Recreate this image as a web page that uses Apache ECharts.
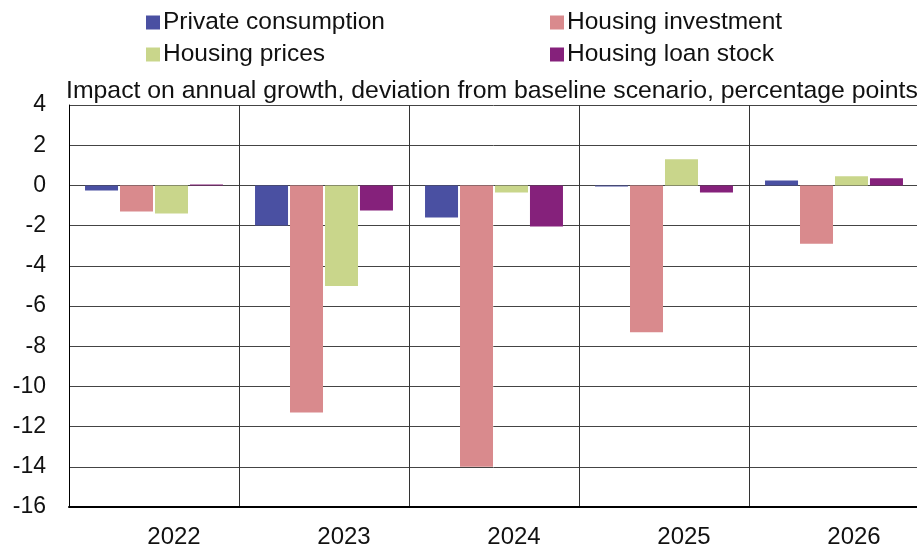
<!DOCTYPE html>
<html><head><meta charset="utf-8">
<script src="https://cdn.jsdelivr.net/npm/echarts@6/dist/echarts.min.js"></script>
<style>html,body{margin:0;padding:0;background:#fff}#c{width:917px;height:546px}</style>
</head><body><div id="c"></div>
<script>
const categories = ['2022', '2023', '2024', '2025', '2026'];
const privateConsumption = [-0.25, -2.0, -1.6, -0.05, 0.25];
const housingInvestment = [-1.3, -11.3, -14.0, -7.3, -2.9];
const housingPrices = [-1.4, -5.0, -0.35, 1.3, 0.45];
const housingLoanStock = [0.05, -1.25, -2.05, -0.35, 0.35];
const yTicks = { min: -16, max: 4, interval: 2 };
const subtitle = 'Impact on annual growth, deviation from baseline scenario, percentage points';

const font = 'Liberation Sans, Arial, sans-serif';
const chart = echarts.init(document.getElementById('c'), null, { renderer: 'canvas' });
const mk = (name, data, color) => ({
  name, type: 'bar', data, barWidth: 33, barGap: '6%',
  itemStyle: { color }
});
const legendText = { fontFamily: font, fontSize: 24.5, color: '#111', padding: [0, 0, 0, -2] };
chart.setOption({
  animation: false,
  title: { text: subtitle, left: 61, top: 74, textStyle: { fontFamily: font, fontSize: 24.8, fontWeight: 'normal', color: '#111' } },
  legend: [
    { data: ['Private consumption', 'Housing prices'], orient: 'vertical', left: 141, top: 5, itemWidth: 14, itemHeight: 14, itemGap: 7,
      textStyle: legendText, icon: 'rect' },
    { data: ['Housing investment', 'Housing loan stock'], orient: 'vertical', left: 545, top: 5, itemWidth: 14, itemHeight: 14, itemGap: 7,
      textStyle: legendText, icon: 'rect' }
  ],
  grid: { left: 69, top: 105, width: 850, height: 402, containLabel: false, outerBoundsMode: 'none' },
  xAxis: {
    type: 'category', data: categories, position: 'bottom',
    axisLine: { onZero: false, lineStyle: { color: '#000', width: 2 } },
    axisTick: { show: false },
    axisLabel: { fontFamily: font, fontSize: 24, color: '#111', margin: 18, padding: [0, 0, 0, 40] },
    splitLine: { show: true, lineStyle: { color: '#333', width: 1 } }
  },
  yAxis: {
    type: 'value', min: yTicks.min, max: yTicks.max, interval: yTicks.interval,
    axisLine: { show: true, lineStyle: { color: '#000', width: 1 } },
    axisTick: { show: false },
    axisLabel: { fontFamily: font, fontSize: 23, color: '#111', margin: 23 },
    splitLine: { show: true, lineStyle: { color: '#444', width: 1 } }
  },
  series: [
    mk('Private consumption', privateConsumption, '#4a50a2'),
    mk('Housing investment', housingInvestment, '#d98a8d'),
    mk('Housing prices', housingPrices, '#c9d68b'),
    mk('Housing loan stock', housingLoanStock, '#85217b')
  ]
});
</script></body></html>
